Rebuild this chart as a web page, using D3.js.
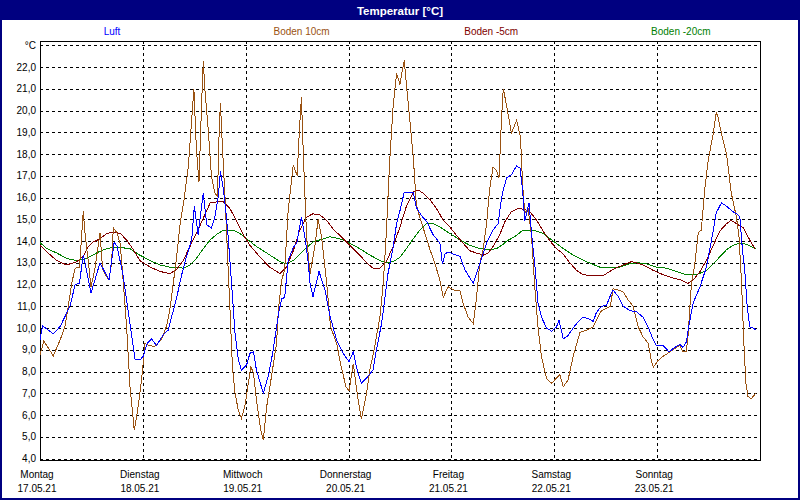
<!DOCTYPE html>
<html><head><meta charset="utf-8">
<script src="https://cdn.jsdelivr.net/npm/d3@7"></script>
<style>
body{margin:0;background:#fff;}
text{font-family:"Liberation Sans",Arial,sans-serif;}
</style></head>
<body><svg id="c" width="800" height="500"></svg>
<script>
const title = "Temperatur [°C]";
const seriesNames = ["Luft","Boden 10cm","Boden -5cm","Boden -20cm"];
const seriesColors = ["#0000ff","#9a5212","#800000","#008000"];
const dayNames = ["Montag","Dienstag","Mittwoch","Donnerstag","Freitag","Samstag","Sonntag"];
const dayDates = ["17.05.21","18.05.21","19.05.21","20.05.21","21.05.21","22.05.21","23.05.21"];
const yTicks = [4,5,6,7,8,9,10,11,12,13,14,15,16,17,18,19,20,21,22];
const yUnit = "°C";

// hours since Mon 17.05.21 00:00, temperature °C
const luftT = [0,0.6,3.1,4.7,6.2,7,8.2,9.2,10.1,11.9,14,16.1,17.3,18,19.4,20.4,22.2,23.3,24.1,25,26,27.2,28.8,29.9,30.7,31.9,33,34.2,35.4,36,36.9,38.1,38.9,40,40.8,41.6,42.1,42.8,43.4,43.9,44.7,45.5,46.3,47,48.2,49,49.8,50.5,52.1,53.4,54.4,55.2,55.8,56.4,57.1,57.9,59.1,59.9,61,61.8,62.6,63,63.7,65.1,66.5,67.6,69.2,70.7,72.1,73.1,74,75,76.2,77.7,78.5,79.7,80.5,81.2,82.4,83.2,84,85,87.1,87.8,89,90.2,91.7,93.3,93.9,94.5,95.2,96.4,98,99.1,101.1,102.6,104.2,105.7,106.9,107.7,108.3,108.9,110,111.2,112,112.6,113.1,113.7,114.1,114.7,115.5,116.2,117,118.2,119.4,120.5,121.1,122.1,123.2,124.4,125.6,126.7,128.3,129.1,129.8,131,132.2,133,133.7,134.9,136.1,137.6,139.2,140.7,141.9,143.1,143.8,145.4,146.8,147.7,149.3,150,150.8,151.5,152.4,154,155.5,156.7,157.8,159,160.2,161.7,162.9,163.3,163.9,164.5,165,165.6,166.4,167];
const luftV = [9.45,10.1,9.73,10.07,10.68,11.0,12.0,12.06,13.37,11.6,13.0,12.2,13.93,13.75,12.4,11.0,8.53,8.53,8.7,9.3,9.5,9.2,9.7,9.9,10.5,11.4,12.4,13.3,14.05,15.6,14.3,16.2,14.75,14.6,15.1,16.05,17.2,16.35,15.3,14.2,12.06,9.76,8.53,8.07,8.3,8.84,8.9,8.07,7.0,7.9,8.97,10.05,10.8,11.35,11.4,13.1,13.7,13.9,15.1,14.2,13.0,12.06,11.44,12.6,11.75,10.6,9.45,8.84,8.45,8.9,8.07,7.46,7.7,8.07,9.0,10.2,11.4,12.5,13.7,14.8,15.4,16.25,16.25,15.55,15.17,14.9,14.3,13.9,12.95,13.4,13.5,13.4,13.3,12.7,12.05,12.95,13.9,14.5,14.8,16.0,16.5,16.9,17.05,17.45,17.35,16.35,14.9,15.4,15.75,14.35,12.8,11.15,10.5,10.0,9.85,10.05,10.35,9.5,9.65,10.0,10.3,10.5,10.4,10.3,10.7,11.0,11.05,11.45,11.75,11.45,11.0,10.8,10.75,10.5,10.05,9.45,9.2,9.2,8.9,9.05,9.25,9.1,9.35,10.2,11.15,11.9,12.8,14.05,15.3,15.75,15.6,15.35,15.2,15.1,13.6,12.5,11.0,10.05,10.0,9.9];

const boden10T = [0,0.9,3.1,4.7,5.8,6.6,7.4,8.2,9.2,9.5,10.1,10.5,11.3,11.9,12.8,14,14.6,15.4,16.1,16.7,17.1,17.9,18.7,19.4,20.2,21,22,22.7,23.7,24.5,25.3,26.8,28.4,29.5,30.3,31.1,31.9,32.7,33.6,34.6,35.4,35.9,36.5,37.1,37.7,38.1,38.5,39.3,40,40.8,41.4,41.8,42.1,42.6,43.2,43.7,44.3,44.9,45.5,46.3,47,47.8,48.6,49.2,49.8,50.5,51.5,52.1,52.9,54,55.2,55.6,56.4,57.1,57.9,58.7,59.1,60,60.5,61,61.4,62.2,63,64.1,64.9,65.7,66.9,67.8,69.2,70.3,71.4,72.1,73.1,74,75,76.2,77,78.1,79.3,80.1,80.8,81.6,82.4,83.2,84,84.5,85,85.5,86.3,87.1,87.8,88.6,89.8,91,92.1,93.3,94.1,95.2,96.4,98,98.7,99.9,101.1,101.8,102.6,103.4,104.2,104.9,105.7,106.5,107.1,107.7,108.1,108.9,110,111.2,112.1,112.6,113.1,113.9,114.7,115.5,116.2,117,118.2,119.4,120.5,121.3,122.1,123.2,124.4,126,127.5,129.1,129.8,131,132.2,133.1,133.7,134.9,136.1,137.2,138.4,139.6,140.7,141.9,142.7,143.1,144.2,145.4,147,148.1,149.3,150,150.8,151.2,152,152.8,153.6,154.3,155.1,155.9,157.1,157.8,158.2,159,160.2,161.3,162.5,163.1,163.7,164.2,164.7,165.2,166,167];
const boden10V = [8.77,9.4,8.72,9.45,10.07,11.0,12.06,12.75,12.8,13.6,15.36,14.35,13.0,11.9,12.7,14.36,12.7,12.4,12.2,13.0,14.6,14.4,13.9,12.2,10.07,7.3,5.3,6.1,7.6,9.3,9.2,9.15,9.5,10.07,10.85,12.06,13.3,14.8,15.9,17.4,19.6,21.0,18.2,16.7,20.3,22.26,20.9,19.0,16.97,16.2,16.05,19.0,20.35,18.2,15.9,13.6,11.0,8.23,7.0,6.2,5.85,6.4,7.45,8.23,7.93,6.7,5.3,4.85,6.4,7.75,9.3,10.8,12.2,12.7,15.4,16.8,17.5,17.0,19.0,20.6,18.2,14.2,12.5,13.7,15.0,14.2,12.05,10.05,9.3,8.2,7.3,7.1,8.35,7.0,5.8,7.0,8.1,9.15,10.5,12.05,14.35,17.7,20.2,21.7,21.2,21.8,22.3,21.2,19.55,17.85,15.7,15.1,14.36,13.6,13.0,12.2,11.4,11.9,11.75,11.7,11.15,10.5,10.2,11.3,12.95,13.6,14.8,16.35,17.4,17.25,16.9,19.7,21.0,20.2,18.95,19.55,18.8,16.65,15.3,15.45,14.2,11.75,10.05,8.7,7.66,7.46,7.7,7.85,7.3,7.6,8.7,9.8,9.9,10.05,10.35,10.8,10.9,11.0,11.8,11.75,11.65,11.3,11.0,10.05,9.6,9.3,8.45,8.2,8.5,8.7,8.9,9.05,9.2,8.9,8.9,9.6,12.05,12.95,14.4,14.5,16.35,17.7,18.95,19.9,19.7,18.95,18.0,16.2,15.1,14.2,12.05,9.45,7.46,6.85,6.75,7.0];

const boden5T = [0,1.6,3.9,6.2,8.6,10.1,11.3,12.4,14,15.6,17.1,18.7,20.2,21.8,23.3,25.7,28,30.3,31.9,33.4,35,36.5,38.1,39.7,41.2,42.8,44.3,45.9,47.4,49,50.5,52.1,53.6,56,57.5,59.1,60.6,62.2,63.7,65.3,66.9,68.4,70,71.5,73.1,74.6,76.2,77.7,79.3,80.8,82.4,84,85.5,87.1,88.2,89.4,91,92.5,94.1,95.6,97.2,98.7,100.3,101.8,103.4,104.6,105.7,107.3,108.5,110,111.6,113.1,114.3,115.9,117.4,119,120.5,122.1,123.6,125.2,126.7,129.1,131.4,133.7,136.1,138,139.2,140.7,143.1,145.4,147.7,149.7,151.2,152.4,154,155.5,157.1,158.6,160.2,161.3,162.5,164.1,165.6,166.8];
const boden5V = [13.8,13.5,13.1,12.9,13.05,13.3,13.75,13.95,14.1,14.35,14.4,14.35,14.05,13.6,13.1,12.8,12.6,12.5,12.7,13.1,13.75,14.35,15.05,15.75,15.8,15.8,15.5,14.9,14.3,13.8,13.45,13.1,12.8,12.5,12.8,13.55,14.5,15.1,15.25,15.2,14.95,14.55,14.25,13.95,13.65,13.35,13.0,12.75,12.75,13.05,13.75,14.65,15.6,16.25,16.35,16.2,15.9,15.5,14.95,14.65,14.25,13.9,13.55,13.45,13.35,13.45,13.75,14.3,14.9,15.35,15.5,15.45,15.35,14.95,14.45,14.0,13.65,13.4,13.0,12.65,12.45,12.4,12.4,12.7,12.9,13.05,13.0,12.9,12.65,12.45,12.3,12.2,12.05,12.2,12.6,13.1,13.8,14.45,14.8,14.95,14.8,14.6,14.05,13.65];

const boden20T = [0,1.6,3.9,6.2,8.6,10.9,13.2,14.8,16.7,18.7,21,23.3,25.7,28,30.3,31.9,33.4,35,36.5,38.1,39.7,41.2,42.8,45.1,46.6,48.2,50.5,52.9,56,57.5,59.1,61.4,63.7,66.1,67.6,70,72.3,74.6,77,79.3,80.8,82.4,84,85.5,87.1,88.6,90.2,91.7,93.3,95.6,98,100.3,102.6,105,106.5,108.1,108.9,110.8,112.7,115.1,117.4,119.7,122.1,124.4,127.5,130.6,133,135.3,137.6,139.6,141.5,143.8,146.2,148.5,150.8,153.2,155.5,157.8,160.2,161.7,163.3,164.8,167];
const boden20V = [13.93,13.65,13.45,13.2,13.1,13.2,13.45,13.6,13.7,13.7,13.65,13.35,13.1,12.9,12.8,12.8,12.75,12.9,13.2,13.65,14.05,14.3,14.5,14.5,14.35,14.1,13.75,13.45,13.05,12.95,13.1,13.55,13.95,14.1,14.2,14.1,13.9,13.65,13.35,13.1,13.0,13.05,13.25,13.65,14.1,14.5,14.8,14.8,14.65,14.35,14.05,13.8,13.65,13.6,13.65,13.85,14.0,14.2,14.5,14.5,14.35,14.0,13.65,13.35,13.05,12.8,12.8,12.8,12.95,13.0,12.95,12.8,12.75,12.6,12.45,12.45,12.65,13.1,13.6,13.8,13.9,13.85,13.65];

const svg = d3.select("#c");
const L = 40, R = 760, T = 41, B = 460;
const x = d3.scaleLinear().domain([0, 168]).range([L, R]);
const y = d3.scaleLinear().domain([4, 22]).range([458.5, 67]);
const fmt = v => d3.format(".1f")(v).replace(".", ",");

// frame / title
svg.append("rect").attr("x",1).attr("y",1).attr("width",798).attr("height",498)
  .attr("fill","#fff").attr("stroke","#000080").attr("stroke-width",2);
svg.append("rect").attr("x",0).attr("y",0).attr("width",800).attr("height",20).attr("fill","#000080");
svg.append("text").attr("x",400).attr("y",15).attr("text-anchor","middle")
  .attr("fill","#fff").attr("font-weight","bold").attr("font-size",11.5).text(title);

// legend
seriesNames.forEach((n,i)=>{
  svg.append("text").attr("x",112 + i*189.6).attr("y",35).attr("text-anchor","middle")
    .attr("font-size",10).attr("fill",seriesColors[i]).text(n);
});

// horizontal grid (dashed) incl. unit line
const gridG = svg.append("g").attr("shape-rendering","crispEdges");
const hLines = yTicks.concat([23]);
gridG.selectAll("line.h").data(hLines).join("line")
  .attr("x1",L).attr("x2",R).attr("y1",d=>Math.round(y(d))+0.5).attr("y2",d=>Math.round(y(d))+0.5)
  .attr("stroke","#000").attr("stroke-dasharray","3,3");
// vertical day grid
gridG.selectAll("line.v").data(d3.range(1,7)).join("line")
  .attr("x1",d=>Math.round(x(d*24))+0.5).attr("x2",d=>Math.round(x(d*24))+0.5)
  .attr("y1",T).attr("y2",B).attr("stroke","#000").attr("stroke-dasharray","3,3");

// y axis labels via d3 axis
const yAxis = d3.axisLeft(y).tickValues(yTicks).tickFormat(fmt).tickSize(0).tickPadding(4);
const yg = svg.append("g").attr("transform",`translate(${L},0)`).call(yAxis);
yg.select(".domain").remove();
yg.selectAll("text").attr("font-size",10).attr("font-family","Liberation Sans, Arial, sans-serif").attr("fill","#000");
svg.append("text").attr("x",36).attr("y",y(23)+4).attr("text-anchor","end").attr("font-size",10).text(yUnit);

// x labels
const xg = svg.append("g");
dayNames.forEach((d,i)=>{
  xg.append("text").attr("x",x(i*24)-3).attr("y",478).attr("text-anchor","middle").attr("font-size",10).text(d);
  xg.append("text").attr("x",x(i*24)-3).attr("y",492).attr("text-anchor","middle").attr("font-size",10).text(dayDates[i]);
});

// plot frame
svg.append("rect").attr("x",L+0.5).attr("y",T+0.5).attr("width",R-L).attr("height",B-T)
  .attr("fill","none").attr("stroke","#000").attr("shape-rendering","crispEdges");

// series
const line = d3.line().x(d=>x(d[0])).y(d=>y(d[1]));
const series = [
  d3.zip(boden20T, boden20V),
  d3.zip(boden5T, boden5V),
  d3.zip(boden10T, boden10V),
  d3.zip(luftT, luftV)
];
const order = [3,2,1,0];
series.forEach((s,k)=>{
  svg.append("path").datum(s).attr("d",line).attr("fill","none")
    .attr("stroke",seriesColors[order[k]]).attr("stroke-width",1)
    .attr("shape-rendering","crispEdges");
});
</script></body></html>
